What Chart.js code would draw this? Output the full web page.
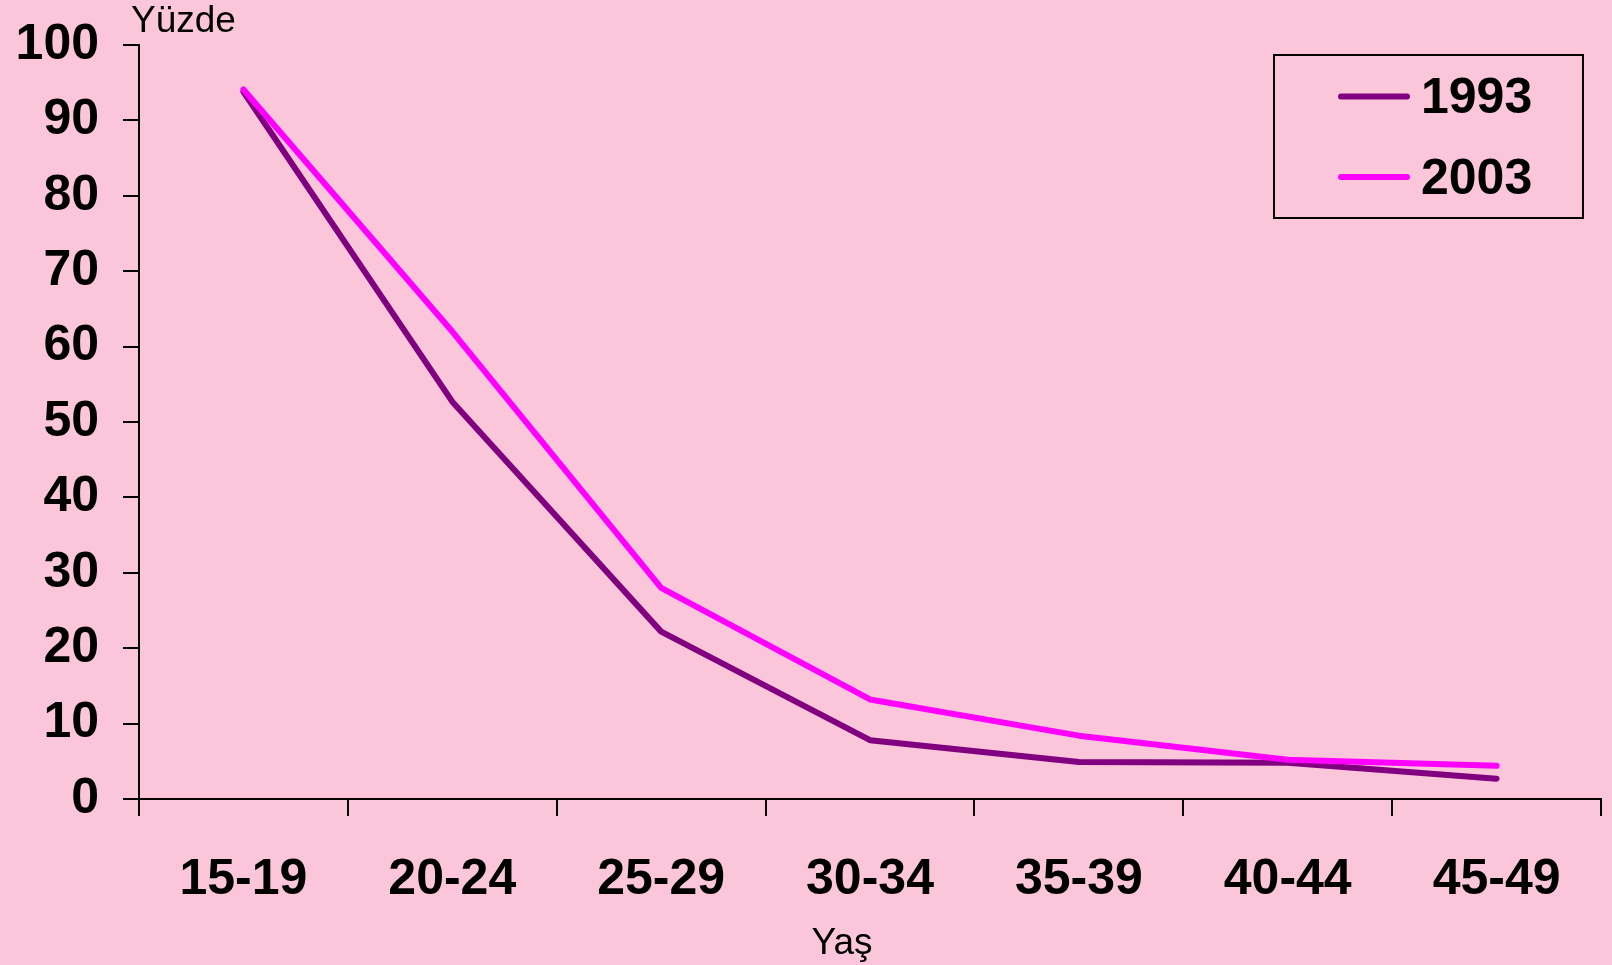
<!DOCTYPE html>
<html>
<head>
<meta charset="utf-8">
<script src="https://cdn.jsdelivr.net/npm/chart.js@4.4.0/dist/chart.umd.min.js"></script>
<style>
  html, body { margin: 0; padding: 0; background: #FCC8DA; }
  #wrap { width: 1612px; height: 965px; position: relative; }
  canvas { display: block; }
</style>
</head>
<body>
<div id="wrap"><canvas id="c" width="1612" height="965"></canvas></div>
<script>
const categories = ['15-19', '20-24', '25-29', '30-34', '35-39', '40-44', '45-49'];
const series1993 = [93.8, 52.7, 22.2, 7.8, 4.9, 4.8, 2.7];
const series2003 = [94.1, 62.0, 28.0, 13.2, 8.4, 5.2, 4.4];
const seriesNames = ['1993', '2003'];
const yMin = 0, yMax = 100, yStep = 10;
const yTitle = 'Yüzde';
const xTitle = 'Yaş';

const FONT = "'Liberation Sans', Arial, sans-serif";

const bgPlugin = {
  id: 'bg',
  beforeDraw(chart) {
    const ctx = chart.ctx;
    ctx.save();
    ctx.fillStyle = '#FBC6D9';
    ctx.fillRect(0, 0, chart.width, chart.height);
    ctx.restore();
  }
};

const decorPlugin = {
  id: 'decor',
  afterDraw(chart) {
    const ctx = chart.ctx;
    ctx.save();
    ctx.fillStyle = '#000';
    ctx.font = "37px " + FONT;
    ctx.textBaseline = 'alphabetic';
    ctx.textAlign = 'left';
    ctx.fillText(yTitle, 131, 32);
    ctx.textAlign = 'center';
    ctx.fillText(xTitle, 842, 954);

    const bx = 1274, by = 55, bw = 309, bh = 163;
    ctx.fillStyle = '#FBC6D9';
    ctx.fillRect(bx, by, bw, bh);
    ctx.strokeStyle = '#000';
    ctx.lineWidth = 2;
    ctx.strokeRect(bx, by, bw, bh);
    const rows = [96.5, 177];
    chart.data.datasets.forEach((ds) => {
      const idx = seriesNames.indexOf(ds.label);
      const y = rows[idx];
      ctx.strokeStyle = ds.borderColor;
      ctx.lineWidth = 6;
      ctx.lineCap = 'round';
      ctx.beginPath();
      ctx.moveTo(1341, y);
      ctx.lineTo(1407, y);
      ctx.stroke();
      ctx.fillStyle = '#000';
      ctx.font = "bold 50px " + FONT;
      ctx.textAlign = 'left';
      ctx.textBaseline = 'middle';
      ctx.fillText(ds.label, 1421, y + 3);
    });
    ctx.restore();
  }
};

new Chart(document.getElementById('c'), {
  type: 'line',
  data: {
    labels: categories,
    datasets: [
      {
        label: seriesNames[1],
        data: series2003,
        borderColor: '#FF00FF',
        backgroundColor: '#FF00FF',
        borderWidth: 6,
        pointRadius: 0,
        tension: 0,
        borderCapStyle: 'round',
        borderJoinStyle: 'round',
        order: 0
      },
      {
        label: seriesNames[0],
        data: series1993,
        borderColor: '#800080',
        backgroundColor: '#800080',
        borderWidth: 6,
        pointRadius: 0,
        tension: 0,
        borderCapStyle: 'round',
        borderJoinStyle: 'round',
        order: 1
      }
    ]
  },
  options: {
    responsive: false,
    animation: false,
    devicePixelRatio: 1,
    layout: { padding: { top: 45, right: 11, left: 0, bottom: 0 } },
    plugins: {
      legend: { display: false },
      tooltip: { enabled: false }
    },
    scales: {
      x: {
        type: 'category',
        offset: true,
        grid: {
          offset: true,
          drawOnChartArea: false,
          drawTicks: true,
          tickLength: 17,
          color: '#000',
          lineWidth: 2
        },
        border: { display: true, color: '#000', width: 2 },
        ticks: {
          color: '#000',
          font: { family: FONT, size: 50, weight: 'bold' },
          padding: 34,
          maxRotation: 0,
          autoSkip: false
        },
        afterFit(scale) {
          scale.height = 166;
          scale.paddingLeft = 0;
          scale.paddingRight = 0;
        }
      },
      y: {
        min: yMin,
        max: yMax,
        grid: {
          drawOnChartArea: false,
          drawTicks: true,
          tickLength: 16,
          color: '#000',
          lineWidth: 2
        },
        border: { display: true, color: '#000', width: 2 },
        ticks: {
          stepSize: yStep,
          color: '#000',
          font: { family: FONT, size: 50, weight: 'bold' },
          padding: 24
        },
        afterFit(scale) {
          scale.width = 139;
          scale.paddingTop = 0;
          scale.paddingBottom = 0;
        }
      }
    }
  },
  plugins: [bgPlugin, decorPlugin]
});
</script>
</body>
</html>
